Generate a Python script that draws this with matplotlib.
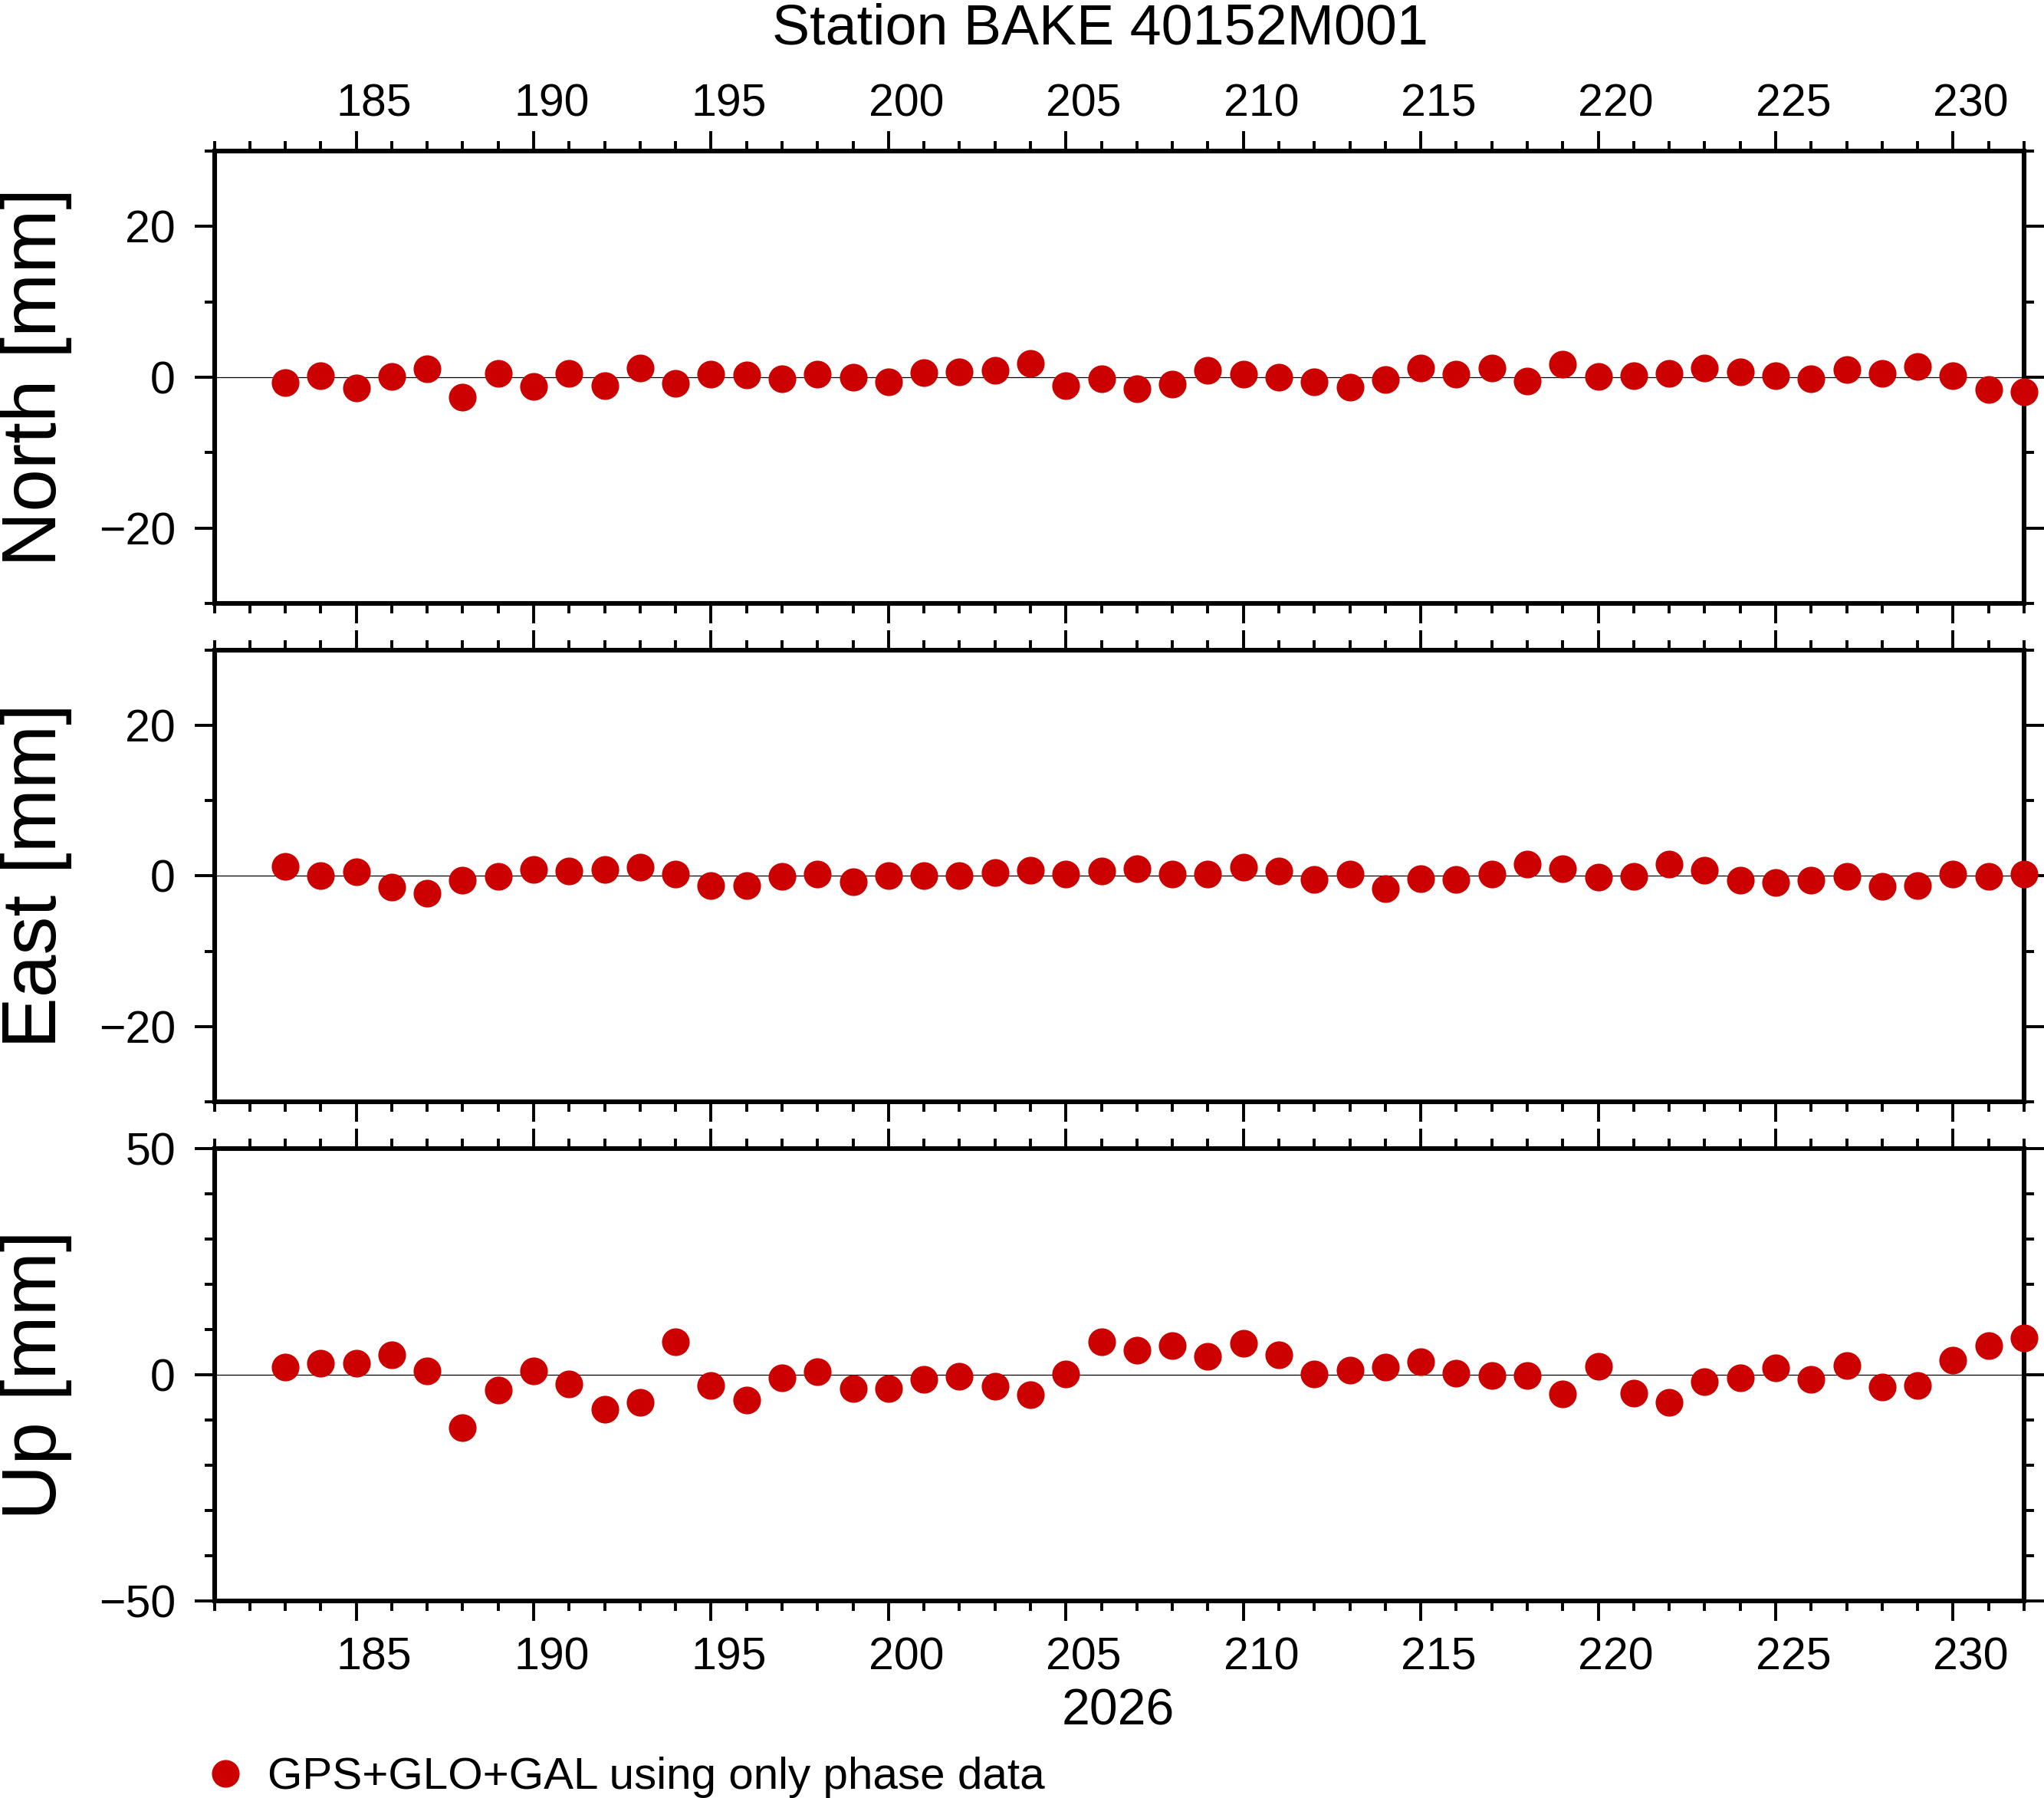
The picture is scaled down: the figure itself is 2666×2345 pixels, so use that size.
import matplotlib
matplotlib.use('Agg')
import matplotlib.pyplot as plt
from matplotlib.ticker import MultipleLocator, FixedLocator

plt.rcParams['font.family'] = ['Liberation Sans', 'DejaVu Sans']

# ---------------- data ----------------
days = list(range(183, 233))

north = [-0.74, 0.16, -1.43, 0.10, 1.10, -2.65, 0.53, -1.17, 0.48, -1.10,
         1.17, -0.80, 0.37, 0.32, -0.20, 0.42, -0.05, -0.64, 0.58, 0.69,
         0.90, 1.80, -1.10, -0.20, -1.54, -0.90, 0.95, 0.42, -0.05, -0.64,
         -1.33, -0.32, 1.17, 0.42, 1.22, -0.53, 1.75, 0.10, 0.20, 0.48,
         1.17, 0.69, 0.20, -0.20, 1.00, 0.53, 1.38, 0.16, -1.64, -1.90]

east = [1.32, 0.04, 0.56, -1.50, -2.31, -0.60, -0.09, 0.90, 0.64, 0.90,
        1.15, 0.21, -1.28, -1.24, -0.04, 0.30, -0.81, 0.00, 0.09, 0.00,
        0.43, 0.81, 0.21, 0.64, 0.94, 0.30, 0.30, 1.15, 0.64, -0.47,
        0.21, -1.71, -0.38, -0.47, 0.21, 1.54, 0.94, -0.17, -0.04, 1.54,
        0.81, -0.56, -0.90, -0.60, -0.09, -1.41, -1.32, 0.21, -0.04, 0.21]

up = [1.71, 2.56, 2.42, 4.34, 0.85, -11.75, -3.35, 0.85, -1.99, -7.69,
      -6.13, 7.19, -2.35, -5.56, -0.78, 0.71, -3.06, -3.06, -1.00, -0.43,
      -2.64, -4.49, 0.14, 7.19, 5.34, 6.34, 3.99, 6.84, 4.34, 0.21,
      0.93, 1.57, 2.92, 0.36, -0.28, -0.14, -4.34, 1.78, -4.13, -6.20,
      -1.64, -0.64, 1.42, -1.14, 1.92, -2.78, -2.35, 3.13, 6.34, 8.05]

x_major = [185, 190, 195, 200, 205, 210, 215, 220, 225, 230]
panel_labels = ["North [mm]", "East [mm]", "Up [mm]"]
title = "Station BAKE 40152M001"
year_label = "2026"
legend_label = "GPS+GLO+GAL using only phase data"

RED = '#CD0000'

# ---------------- figure ----------------
W, H = 2666, 2345
fig = plt.figure(figsize=(W / 100, H / 100), dpi=100)


def px_rect(left, top, right, bottom):
    return [left / W, 1 - bottom / H, (right - left) / W, (bottom - top) / H]


rects = [px_rect(279.5, 197, 2640, 787),
         px_rect(279.5, 848, 2640, 1437),
         px_rect(279.5, 1497.5, 2640, 2088)]
ylims = [(-30, 30), (-30, 30), (-50, 50)]
ymajors = [20, 20, 50]
series = [north, east, up]

axes = []
legend_handle = None
for i in range(3):
    ax = fig.add_axes(rects[i])
    axes.append(ax)
    ax.set_xlim(181, 232)
    ax.set_ylim(*ylims[i])
    ax.xaxis.set_major_locator(FixedLocator(x_major))
    ax.xaxis.set_minor_locator(MultipleLocator(1))
    ax.yaxis.set_major_locator(MultipleLocator(ymajors[i]))
    ax.yaxis.set_minor_locator(MultipleLocator(10))
    ax.tick_params(axis='x', which='both', direction='out', top=True, bottom=True,
                   labelbottom=False, labeltop=False)
    ax.tick_params(axis='y', which='both', direction='out', left=True, right=True,
                   labelleft=True, labelright=False)
    ax.tick_params(which='major', length=18.5, width=2.8)
    ax.tick_params(which='minor', length=9.7, width=2.8)
    ax.tick_params(axis='y', which='major', labelsize=42.5, pad=18)
    for s in ax.spines.values():
        s.set_linewidth(4.4)
    ax.axhline(0, color='black', lw=0.9, zorder=1)
    line, = ax.plot(days, series[i], 'o', ms=26, color=RED, mec='none',
                    clip_on=False, zorder=3)
    if i == 0:
        legend_handle = line

# day labels centred in their day interval
for d in x_major:
    axes[0].annotate(str(d), xy=(d + 0.5, 1), xycoords=('data', 'axes fraction'),
                     xytext=(0, 33), textcoords='offset points',
                     ha='center', va='baseline', fontsize=42.5)
    axes[2].annotate(str(d), xy=(d + 0.5, 0), xycoords=('data', 'axes fraction'),
                     xytext=(0, -64.8), textcoords='offset points',
                     ha='center', va='baseline', fontsize=42.5)

# panel y labels
for i, lab in enumerate(panel_labels):
    yc = rects[i][1] + rects[i][3] / 2
    fig.text(47 / W, yc, lab, rotation=90, ha='center', va='center', fontsize=72)

fig.text(1434.5 / W, 1 - 57.5 / H, title, ha='center', va='baseline', fontsize=53)
fig.text(1458 / W, 1 - 2250 / H, year_label, ha='center', va='baseline', fontsize=47.5)

fig.legend(handles=[legend_handle], labels=[legend_label], loc='center left',
           bbox_to_anchor=(265 / W, 1 - 2318 / H), frameon=False, fontsize=42,
           handlelength=1.0, handletextpad=0.44, borderpad=0, borderaxespad=0,
           numpoints=1)

fig.savefig('out.png', dpi=100)
